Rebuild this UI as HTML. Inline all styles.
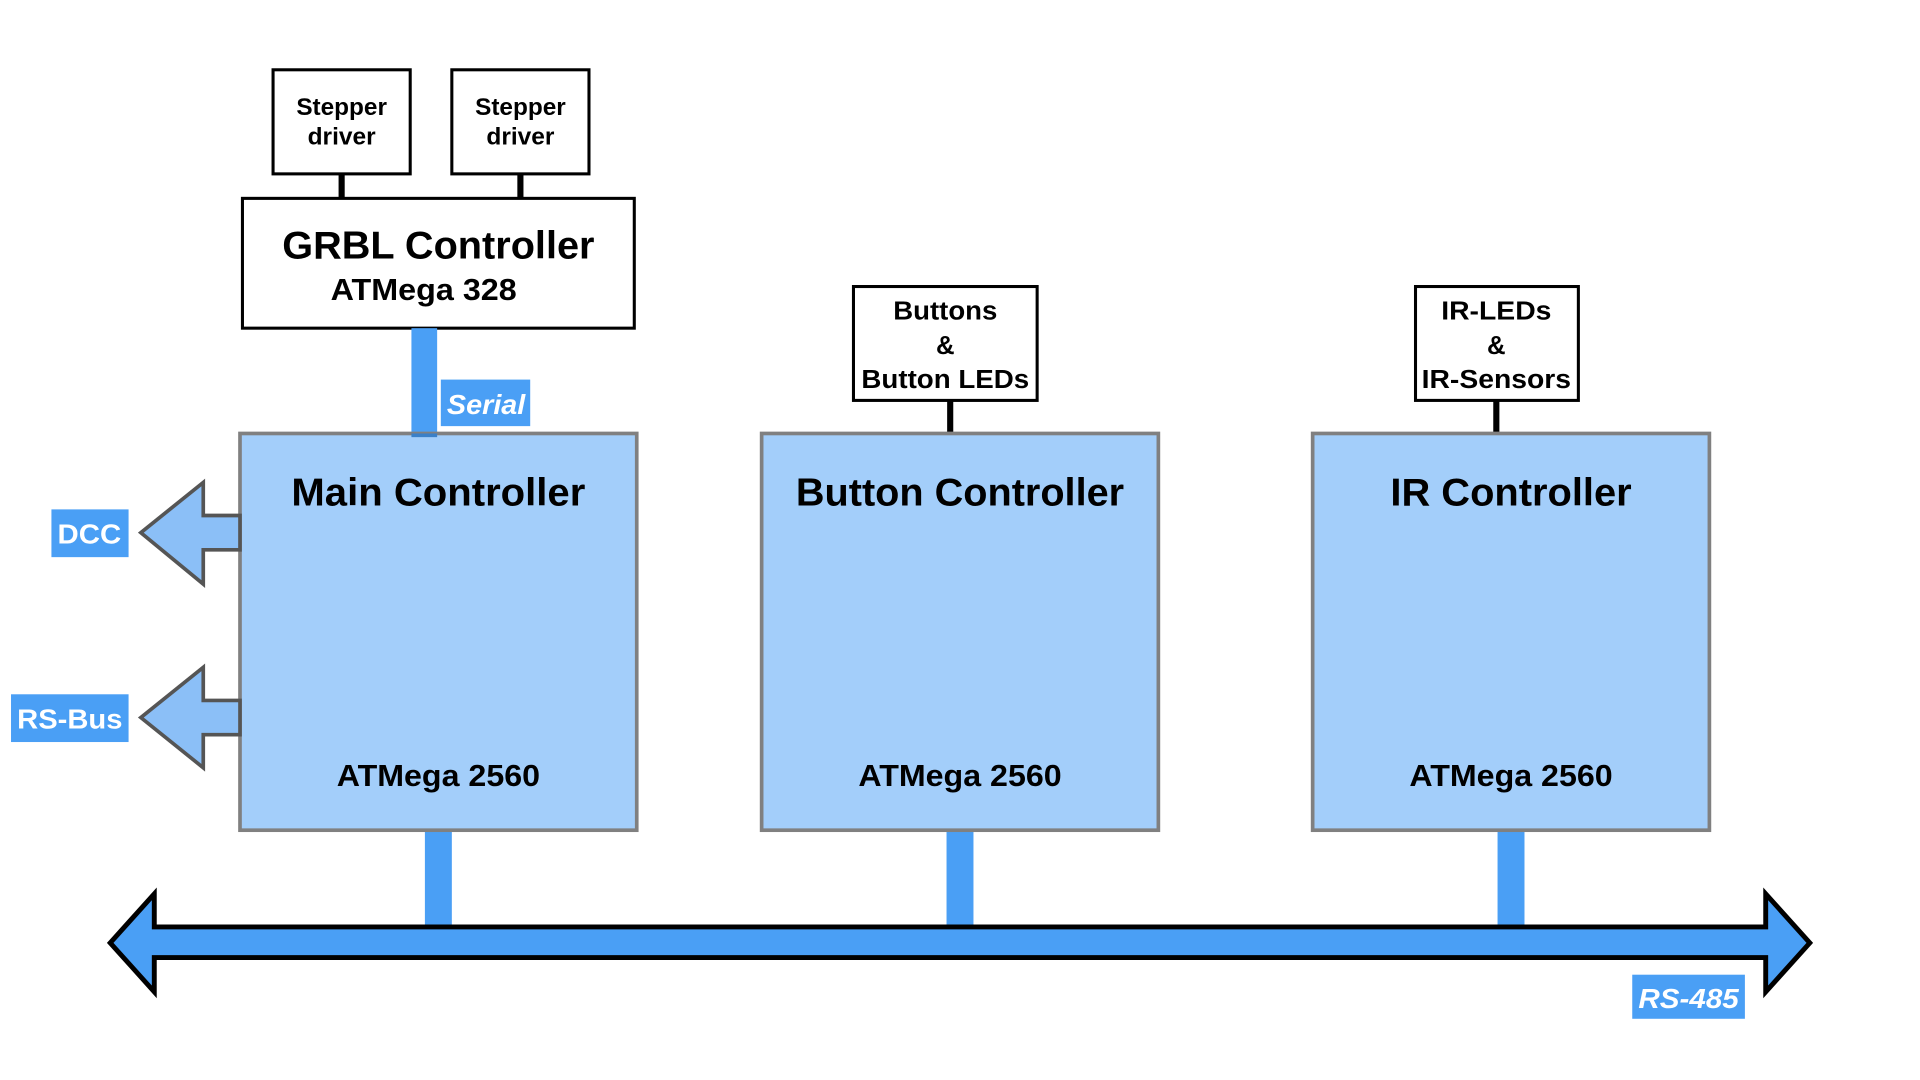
<!DOCTYPE html>
<html><head><meta charset="utf-8"><style>
html,body{margin:0;padding:0;background:#fff;width:1920px;height:1080px;overflow:hidden}
svg{display:block}
text{font-family:"Liberation Sans",Arial,sans-serif;font-weight:bold;text-anchor:middle}
</style></head><body>
<svg width="1920" height="1080" viewBox="0 0 1568 882" preserveAspectRatio="none" xmlns="http://www.w3.org/2000/svg">
<rect width="1568" height="882" fill="#fff"/>
<line x1="279" y1="142" x2="279" y2="162" stroke="#000" stroke-width="5"/>
<line x1="425" y1="142" x2="425" y2="162" stroke="#000" stroke-width="5"/>
<rect x="223" y="57" width="112" height="85" fill="#fff" stroke="#000" stroke-width="2.5"/>
<rect x="369" y="57" width="112" height="85" fill="#fff" stroke="#000" stroke-width="2.5"/>
<text x="279" y="94" font-size="20" textLength="74" lengthAdjust="spacingAndGlyphs">Stepper</text><text x="279" y="118" font-size="20">driver</text>
<text x="425" y="94" font-size="20" textLength="74" lengthAdjust="spacingAndGlyphs">Stepper</text><text x="425" y="118" font-size="20">driver</text>
<rect x="198" y="162" width="320" height="106" fill="#fff" stroke="#000" stroke-width="2.5"/>
<text x="358" y="211" font-size="32" textLength="255" lengthAdjust="spacingAndGlyphs">GRBL Controller</text>
<text x="346" y="245" font-size="25" textLength="152" lengthAdjust="spacingAndGlyphs">ATMega 328</text>
<rect x="336" y="268" width="21" height="88" fill="#4a9ff5"/>
<rect x="360" y="310" width="73" height="38" fill="#4a9ff5"/>
<text x="397" y="338" font-size="23" font-style="italic" fill="#fff" textLength="64" lengthAdjust="spacingAndGlyphs">Serial</text>
<rect x="347" y="678" width="22" height="80" fill="#4a9ff5"/>
<rect x="773" y="678" width="22" height="80" fill="#4a9ff5"/>
<rect x="1223" y="678" width="22" height="80" fill="#4a9ff5"/>
<line x1="776" y1="327" x2="776" y2="354" stroke="#000" stroke-width="5"/>
<line x1="1222" y1="327" x2="1222" y2="354" stroke="#000" stroke-width="5"/>
<rect x="697" y="234" width="150" height="93" fill="#fff" stroke="#000" stroke-width="2.5"/>
<rect x="1156" y="234" width="133" height="93" fill="#fff" stroke="#000" stroke-width="2.5"/>
<text x="772" y="261" font-size="21" textLength="85" lengthAdjust="spacingAndGlyphs">Buttons</text><text x="772" y="289" font-size="21">&amp;</text><text x="772" y="317" font-size="21" textLength="137" lengthAdjust="spacingAndGlyphs">Button LEDs</text>
<text x="1222" y="261" font-size="21" textLength="90" lengthAdjust="spacingAndGlyphs">IR-LEDs</text><text x="1222" y="289" font-size="21">&amp;</text><text x="1222" y="317" font-size="21" textLength="122" lengthAdjust="spacingAndGlyphs">IR-Sensors</text>
<rect x="196" y="354" width="324" height="324" fill="#a3cefa" stroke="#808080" stroke-width="3"/>
<rect x="622" y="354" width="324" height="324" fill="#a3cefa" stroke="#808080" stroke-width="3"/>
<rect x="1072" y="354" width="324" height="324" fill="#a3cefa" stroke="#808080" stroke-width="3"/>
<rect x="336" y="354" width="21" height="3" fill="#3a80c8"/>
<text x="358" y="413" font-size="32" textLength="240" lengthAdjust="spacingAndGlyphs">Main Controller</text>
<text x="784" y="413" font-size="32" textLength="268" lengthAdjust="spacingAndGlyphs">Button Controller</text>
<text x="1234" y="413" font-size="32" textLength="197" lengthAdjust="spacingAndGlyphs">IR Controller</text>
<text x="358" y="642" font-size="25" textLength="166" lengthAdjust="spacingAndGlyphs">ATMega 2560</text>
<text x="784" y="642" font-size="25" textLength="166" lengthAdjust="spacingAndGlyphs">ATMega 2560</text>
<text x="1234" y="642" font-size="25" textLength="166" lengthAdjust="spacingAndGlyphs">ATMega 2560</text>
<polygon points="115,435 166,394 166,421 196,421 196,449 166,449 166,477" fill="#8bbff7" stroke="#555" stroke-width="3"/>
<polygon points="115,586 166,545 166,572 196,572 196,600 166,600 166,627" fill="#8bbff7" stroke="#555" stroke-width="3"/>
<rect x="42" y="416" width="63" height="39" fill="#4a9ff5"/>
<text x="73" y="444" font-size="23" fill="#fff" textLength="52" lengthAdjust="spacingAndGlyphs">DCC</text>
<rect x="9" y="567" width="96" height="39" fill="#4a9ff5"/>
<text x="57" y="595" font-size="23" fill="#fff" textLength="86" lengthAdjust="spacingAndGlyphs">RS-Bus</text>
<polygon points="90,770 126,730 126,757 1442,757 1442,730 1478,770 1442,810 1442,782 126,782 126,810" fill="#4a9ff5" stroke="#000" stroke-width="4"/>
<rect x="1333" y="796" width="92" height="36" fill="#4a9ff5"/>
<text x="1379" y="823" font-size="23" font-style="italic" fill="#fff" textLength="82" lengthAdjust="spacingAndGlyphs">RS-485</text>
</svg>
</body></html>
